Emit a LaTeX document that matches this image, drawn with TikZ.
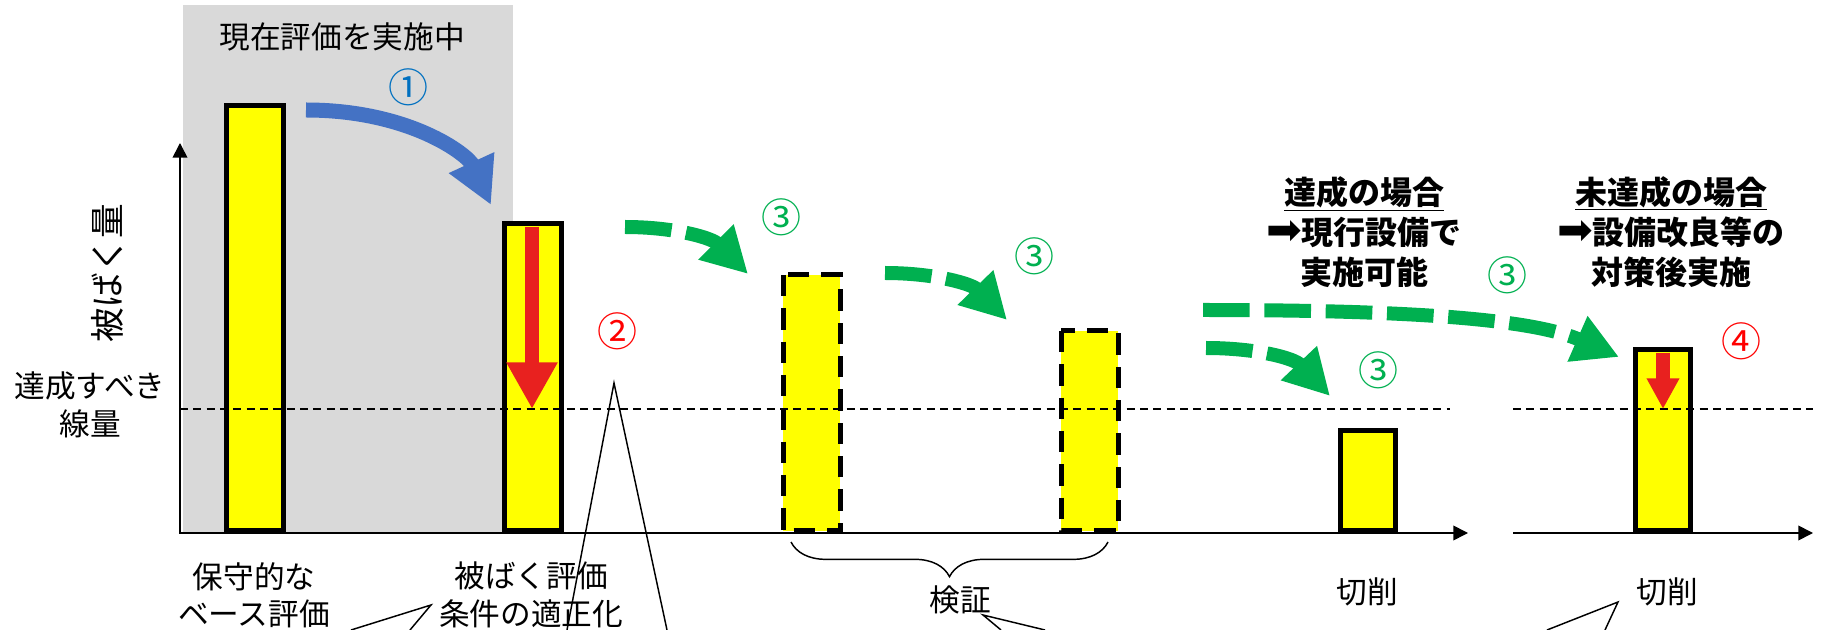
\documentclass[tikz,border=0pt]{standalone}
\usepackage{fontspec}
\setmainfont{Noto Sans CJK JP}
\newfontfamily\arrowfont{DejaVu Sans}
\usetikzlibrary{arrows.meta,decorations.pathreplacing}
\definecolor{boxgray}{HTML}{D9D9D9}
\definecolor{barfill}{HTML}{FFFF00}
\definecolor{arrowblue}{HTML}{4472C4}
\definecolor{arrowgreen}{HTML}{00B050}
\definecolor{arrowred}{HTML}{E8211F}
\definecolor{numblue}{HTML}{0070C0}
\definecolor{numred}{HTML}{FF0000}
\definecolor{numgreen}{HTML}{00B050}

\begin{document}
\begin{tikzpicture}[x=0.75pt, y=-0.75pt,
		bar/.style={draw=black, fill=barfill, line width=3.75pt},
		dashbar/.style={bar, dash pattern=on 16pt off 9pt},
		axisline/.style={line width=1.2pt, -{Triangle[length=11pt,width=11pt]}},
		limit/.style={line width=0.9pt, dash pattern=on 6pt off 4pt},
		callout/.style={line width=1.1pt},
		bluearrow/.style={draw=arrowblue, line width=11.25pt, -{Triangle[length=35pt,width=35pt]}},
		greenarrow/.style={draw=arrowgreen, line width=10.5pt, dash pattern=on 35pt off 11pt, -{Triangle[length=34pt,width=35pt]}},
		redarrow/.style={draw=arrowred, line width=11pt, -{Triangle[length=35pt,width=36pt]}},
		txt/.style={font=\fontsize{23}{28}\selectfont, align=center, inner sep=0pt},
		boldtxt/.style={font=\fontsize{24}{30}\selectfont\bfseries, align=center, inner sep=0pt},
		num/.style={font=\fontsize{30}{30}\selectfont, inner sep=0pt}
	]
	\useasboundingbox (0,0) rectangle (1821,630);

	\fill[boxgray]		(183,5) rectangle (513,534);

	\draw[axisline]		(180,534) -- (180,143);
	\draw[axisline]		(180,533) -- (1468,533);
	\draw[axisline]		(1513,533) -- (1813,533);

	\filldraw[bar]		(226,106) rectangle (283,531);
	\filldraw[bar]		(504,224) rectangle (561,531);
	\filldraw[dashbar]	(783,275) rectangle (840,531);
	\filldraw[dashbar]	(1061,331) rectangle (1118,531);
	\filldraw[bar]		(1340,431) rectangle (1395,531);
	\filldraw[bar]		(1635,350) rectangle (1690,531);

	\draw[limit]		(180,409) -- (1450,409);
	\draw[limit]		(1513,409) -- (1813,409);

	\coordinate (cond top) at (532,227);
	\coordinate (cond low) at (532,409);
	\coordinate (ng top) at (1663,353);
	\coordinate (ng low) at (1663,409);
	\draw[redarrow]		(cond top) -- (cond low);
	\draw[redarrow, -{Triangle[length=23pt,width=23pt]}]	(ng top) -- (ng low);

	\coordinate (base out) at (306,110);
	\coordinate (cond in) at (491,205);
	\draw[bluearrow]	(base out) .. controls (410,110) and (468,155) .. (cond in);

	\coordinate (cond out) at (625,227);
	\coordinate (ver1 in) at (748,274);
	\coordinate (ver1 out) at (885,273);
	\coordinate (ver2 in) at (1007,320);
	\coordinate (ver2 out) at (1203,310);
	\coordinate (ver2 out2) at (1206,348);
	\coordinate (cut1 in) at (1330,396);
	\coordinate (cut2 in) at (1619,357);
	\draw[greenarrow]	(cond out) .. controls (675,227) and (712,238) .. (ver1 in);
	\draw[greenarrow]	(ver1 out) .. controls (935,273) and (972,284) .. (ver2 in);
	\draw[greenarrow]	(ver2 out) .. controls (1400,310) and (1530,318) .. (cut2 in);
	\draw[greenarrow]	(ver2 out2) .. controls (1256,348) and (1294,358) .. (cut1 in);

	\draw[line width=1.1pt, decorate, decoration={brace, mirror, amplitude=26pt}]	(791,542) -- (1108,542);

	\draw[callout]		(351,630) -- (431,605) -- (410,630);
	\draw[callout]		(567,630) -- (614,383) -- (667,630);
	\draw[callout]		(1001,630) -- (983,615) -- (1045,630);
	\draw[callout]		(1547,630) -- (1618,602) -- (1605,630);

	\node[txt] (now) at (342,37) {現在評価を実施中};
	\node[txt, rotate=90, font=\fontsize{26}{26}\selectfont] (dose) at (107,273) {被ばく量};
	\node[txt] (target) at (90,405) {達成すべき\\線量};
	\node[txt] (base) at (254,595) {保守的な\\ベース評価};
	\node[txt] (cond) at (531,595) {被ばく評価\\条件の適正化};
	\node[txt] (verify) at (960,600) {検証};
	\node[txt] (cut1) at (1367,592) {切削};
	\node[txt] (cut2) at (1667,592) {切削};
	\node[boldtxt] (ok) at (1364,232) {\underline{達成の場合}\\{\arrowfont\mdseries\fontsize{32}{30}\selectfont ➡}現行設備で\\実施可能};
	\node[boldtxt] (ng) at (1671,232) {\underline{未達成の場合}\\{\arrowfont\mdseries\fontsize{32}{30}\selectfont ➡}設備改良等の\\対策後実施};

	\node[num, text=numblue] (n1) at (408,87) {①};
	\node[num, text=numred] (n2) at (617,331) {②};
	\node[num, text=numgreen] (n3a) at (781,217) {③};
	\node[num, text=numgreen] (n3b) at (1034,256) {③};
	\node[num, text=numgreen] (n3c) at (1378,370) {③};
	\node[num, text=numgreen] (n3d) at (1507,275) {③};
	\node[num, text=numred] (n4) at (1741,341) {④};
\end{tikzpicture}
\end{document}
